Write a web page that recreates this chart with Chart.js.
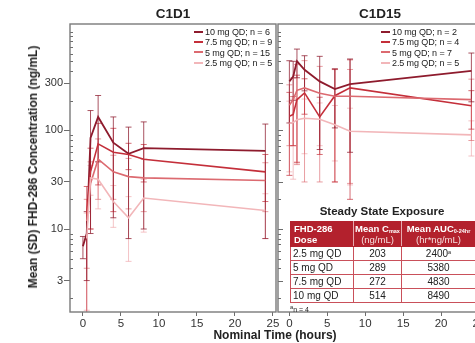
<!DOCTYPE html>
<html>
<head>
<meta charset="utf-8">
<script src="https://cdn.jsdelivr.net/npm/chart.js@4.4.0/dist/chart.umd.min.js"></script>
<style>
  html, body { margin: 0; padding: 0; background: #fff; overflow: hidden; width: 475px; height: 343px; position: relative; font-family: "Liberation Sans", Arial, sans-serif; color: #222; }
  canvas { position: absolute; top: 0; }
  #c1 { left: 0; }
  #c2 { left: 270px; }
  .ptitle { position: absolute; top: 6px; font-weight: bold; font-size: 13.5px; transform: translateX(-50%); white-space: nowrap; }
  .legend { position: absolute; font-size: 9px; line-height: 10.4px; letter-spacing: -0.1px; }
  .legend div { white-space: nowrap; }
  .legend span { display: inline-block; width: 9px; height: 2px; vertical-align: middle; margin-right: 2px; margin-top: -2px; }
  #ytitle { position: absolute; left: 33px; top: 167px; font-weight: bold; font-size: 12px; white-space: nowrap; transform: translate(-50%, -50%) rotate(-90deg); }
  #xtitle { position: absolute; left: 275px; top: 328px; font-weight: bold; font-size: 12px; white-space: nowrap; transform: translateX(-50%); }
  #sstitle { position: absolute; left: 382px; top: 205px; font-weight: bold; font-size: 11.5px; white-space: nowrap; transform: translateX(-50%); }
  #tbl { position: absolute; left: 290px; top: 221px; width: 185px; border-collapse: collapse; font-size: 10px; background: #fff; table-layout: fixed; }
  #tbl th { background: #b3212d; color: #fff; font-weight: bold; font-size: 9.5px; border: 1px solid #b3212d; border-right-color: #e6aab0; height: 24px; padding: 0 1px; line-height: 11px; text-align: center; white-space: nowrap; overflow: hidden; }
  #tbl th:first-child { text-align: left; padding-left: 3px; }
  #tbl th .u { font-weight: normal; color: #f6dede; }
  #tbl th sub { font-size: 5.5px; vertical-align: -1px; line-height: 0; }
  #tbl td { border: 1px solid #c9505a; height: 13px; padding: 0 2px; line-height: 12px; text-align: center; white-space: nowrap; overflow: hidden; }
  #tbl td:first-child { text-align: left; }
  #tbl sup { font-size: 5.5px; vertical-align: 3px; line-height: 0; }
  #foot { position: absolute; left: 290px; top: 303px; font-size: 7px; line-height: 8px; }
</style>
</head>
<body>
<canvas id="c1" width="292" height="343"></canvas>
<canvas id="c2" width="240" height="343"></canvas>
<div class="ptitle" style="left:173px">C1D1</div>
<div class="ptitle" style="left:380px">C1D15</div>
<div class="legend" id="leg1" style="left:194px; top:27px"></div>
<div class="legend" id="leg2" style="left:381px; top:27px"></div>
<div id="ytitle">Mean (SD) FHD-286 Concentration (ng/mL)</div>
<div id="xtitle">Nominal Time (hours)</div>
<div id="sstitle">Steady State Exposure</div>
<table id="tbl">
  <colgroup><col style="width:63px"><col style="width:48px"><col style="width:74px"></colgroup>
  <thead>
    <tr><th>FHD-286<br>Dose</th><th>Mean C<sub>max</sub><br><span class="u">(ng/mL)</span></th><th>Mean AUC<sub>0-24hr</sub><br><span class="u">(hr*ng/mL)</span></th></tr>
  </thead>
  <tbody id="tbody"></tbody>
</table>
<div id="foot"><sup>a</sup>n = 4</div>
<script>
// nominal sampling times (hours)
const times = [0, 0.5, 1, 2, 4, 6, 8, 24];

const doses = ['10 mg QD', '7.5 mg QD', '5 mg QD', '2.5 mg QD'];
const colors = ['#8e1b2d', '#c42f3a', '#dc6a70', '#f2b6b9'];
const barColors = ['rgba(142,27,45,0.75)', 'rgba(196,47,58,0.7)', 'rgba(220,106,112,0.65)', 'rgba(240,170,174,0.7)'];

// C1D1 means / SD (ng/mL)
const nD1 = [6, 9, 15, 5];
const d1_10 = [6.7, 9, 84, 137, 75, 58, 66, 62];
const d1_75 = [null, 14, 38, 73, 60, 57, 51, 38];
const d1_5 = [null, 12, 29, 51, 38, 34, 33, 31];
const d1_25 = [null, 8, 33, 32, 19, 13, 20.6, 15.4];
const sd1_10 = [1.7, 6, 75, 89, 62, 50, 56, 54];
const sd1_75 = [null, 13, 28, 45, 45, 17, 21, 19];
const sd1_5 = [null, 8, 19, 31, 18, 18, 18, 16];
const sd1_25 = [null, 6.5, 11, 16, 8.6, 8.3, 11.3, 7.4];

// C1D15 means / SD (ng/mL)
const nD15 = [2, 4, 7, 5];
const d15_10 = [314, 352, 505, 412, 314, 263, 295, 402];
const d15_75 = [139, 145, 205, 240, 137, 225, 270, 178];
const d15_5 = [180, 205, 255, 270, 238, 222, 222, 205];
const d15_25 = [118, 120, 128, 133, 130, 114, 98, 90];
const sd15_10 = [195, 150, 163, 160, 250, 157, 235, 207];
const sd15_75 = [104, 75, 158, 94, 80, 195, 250, 75];
const sd15_5 = [110, 135, 210, 240, 208, 192, 193, 126];
const sd15_25 = [80, 88, 80, 75, 60, 65, 70, 35];

// steady state table
const tblDoses = ['2.5 mg QD', '5 mg QD', '7.5 mg QD', '10 mg QD'];
const tblCmax = [203, 289, 272, 514];
const tblAuc = [2400, 5380, 4830, 8490];

const xTicks = [0, 5, 10, 15, 20, 25];
const yMajor = [3, 10, 30, 100, 300];
const yMinor = [2, 4, 5, 6, 7, 8, 9, 20, 40, 50, 60, 70, 80, 90, 200, 400, 500, 600, 700, 800, 900, 1000];

function makeSets(means, sds) {
  return means.map((m, i) => ({
    label: doses[i],
    data: times.map((t, j) => ({ x: t, y: m[j] })),
    sd: sds[i],
    borderColor: colors[i],
    barColor: barColors[i],
    borderWidth: i === 0 ? 1.8 : 1.6,
    pointRadius: 0,
    tension: 0,
    spanGaps: true
  })).reverse();
}

const panelPlugin = {
  id: 'panel',
  beforeDatasetsDraw(chart) {
    const { ctx, chartArea: a, scales: { x, y } } = chart;
    ctx.save();
    ctx.beginPath();
    ctx.rect(a.left, a.top, a.right - a.left, a.bottom - a.top);
    ctx.clip();
    ctx.lineWidth = 1;
    chart.data.datasets.forEach(ds => {
      ctx.strokeStyle = ds.barColor;
      ds.data.forEach((p, j) => {
        if (p.y == null) return;
        const s = ds.sd[j];
        const px = x.getPixelForValue(p.x);
        const top = y.getPixelForValue(p.y + s);
        const lo = p.y - s;
        const bot = lo > 0 ? y.getPixelForValue(lo) : a.bottom;
        ctx.beginPath();
        ctx.moveTo(px, top); ctx.lineTo(px, bot);
        ctx.moveTo(px - 3, top); ctx.lineTo(px + 3, top);
        if (lo > 0) { ctx.moveTo(px - 3, bot); ctx.lineTo(px + 3, bot); }
        ctx.stroke();
      });
    });
    ctx.restore();
  },
  afterDraw(chart) {
    const { ctx, chartArea: a, scales: { y } } = chart;
    const inner = chart.options.plugins.panel.innerMajor;
    ctx.save();
    ctx.strokeStyle = '#6d6d6d';
    ctx.lineWidth = 1;
    yMinor.concat(inner ? yMajor : []).forEach(v => {
      const py = Math.round(y.getPixelForValue(v)) + 0.5;
      if (py < a.top || py > a.bottom) return;
      const len = yMajor.includes(v) ? 5 : 3;
      ctx.beginPath();
      ctx.moveTo(a.left, py); ctx.lineTo(a.left + len, py);
      ctx.stroke();
    });
    ctx.strokeStyle = '#7a7a7a';
    ctx.lineWidth = 1.4;
    ctx.strokeRect(a.left, a.top, a.right - a.left, a.bottom - a.top);
    ctx.restore();
  }
};

function makeChart(id, sets, xMin, padding, showY) {
  return new Chart(document.getElementById(id), {
    type: 'line',
    data: { datasets: sets },
    options: {
      responsive: false,
      animation: false,
      layout: { padding },
      plugins: { legend: { display: false }, tooltip: { enabled: false }, panel: { innerMajor: !showY } },
      scales: {
        x: {
          type: 'linear', min: xMin, max: 25.4,
          afterBuildTicks: s => { s.ticks = xTicks.map(v => ({ value: v })); },
          afterFit: s => { s.height = 31; },
          grid: { drawOnChartArea: false, tickLength: 4, color: '#6d6d6d' },
          border: { display: false },
          ticks: { color: '#333', font: { family: 'Liberation Sans', size: 11.5 }, padding: 1, maxRotation: 0 }
        },
        y: {
          type: 'logarithmic', min: 1.44, max: 1200, display: showY,
          afterBuildTicks: s => { s.ticks = yMajor.map(v => ({ value: v })); },
          afterFit: s => { s.width = showY ? 70 : 0; },
          grid: { drawOnChartArea: false, tickLength: 6, color: '#6d6d6d' },
          border: { display: false },
          ticks: { color: '#333', font: { family: 'Liberation Sans', size: 11 }, padding: 1, callback: v => String(v) }
        }
      }
    },
    plugins: [panelPlugin]
  });
}

makeChart('c1', makeSets([d1_10, d1_75, d1_5, d1_25], [sd1_10, sd1_75, sd1_5, sd1_25]), -1.7,
  { left: 0, top: 24, right: 16, bottom: 0 }, true);
makeChart('c2', makeSets([d15_10, d15_75, d15_5, d15_25], [sd15_10, sd15_75, sd15_5, sd15_25]), -1.5,
  { left: 8, top: 24, right: 28, bottom: 0 }, false);

function fillLegend(id, ns) {
  document.getElementById(id).innerHTML = doses.map((d, i) =>
    `<div><span style="background:${colors[i]}"></span>${d}; n = ${ns[i]}</div>`).join('');
}
fillLegend('leg1', nD1);
fillLegend('leg2', nD15);

document.getElementById('tbody').innerHTML = tblDoses.map((d, i) =>
  `<tr><td>${d}</td><td>${tblCmax[i]}</td><td>${tblAuc[i]}${i === 0 ? '<sup>a</sup>' : ''}</td></tr>`).join('');
</script>
</body>
</html>
